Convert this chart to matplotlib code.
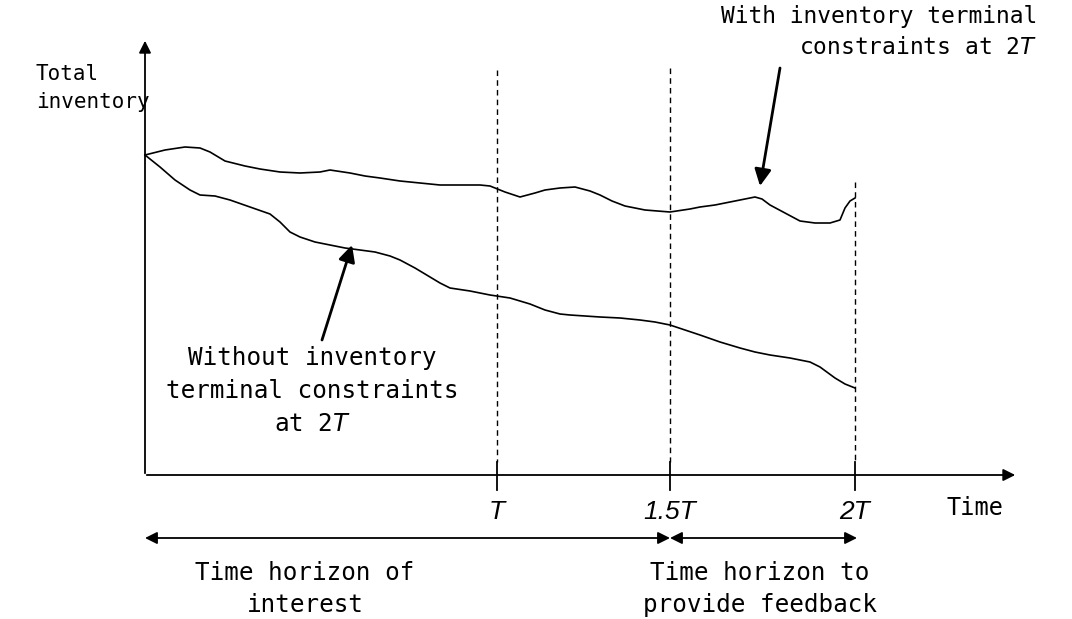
import matplotlib
matplotlib.use("Agg")
import matplotlib.pyplot as plt

# Schematic curves (pixel-like coordinates, y downward)
upper_x = [145,165,185,200,210,225,245,260,280,300,320,330,350,365,380,400,420,440,460,480,490,505,520,535,545,560,575,590,600,612,625,645,670,690,700,715,730,745,755,762,770,785,800,815,830,840,845,850,855]
upper_y = [155,150,147,148,152,161,166,169,172,173,172,170,173,176,178,181,183,185,185,185,186,192,197,193,190,188,187,191,195,201,206,210,212,209,207,205,202,199,197,199,205,213,221,223,223,220,208,201,198]
lower_x = [145,160,175,190,200,215,230,250,270,280,290,300,315,330,345,360,375,390,400,415,430,440,450,470,490,510,530,545,560,570,585,600,620,640,655,670,685,700,720,740,755,770,790,810,820,835,845,855]
lower_y = [155,167,180,190,195,196,200,207,214,222,232,237,242,245,248,250,252,256,260,268,277,283,288,291,295,298,304,310,314,315,316,317,318,320,322,325,330,335,342,348,352,355,358,362,367,378,384,388]
tick_x = [497, 670, 855]
tick_labels = ["T", "1.5T", "2T"]
dash_top = [70, 68, 182]

fig = plt.figure(figsize=(10.72, 6.19), dpi=100)
ax = fig.add_axes([0, 0, 1, 1])
ax.set_xlim(0, 1072); ax.set_ylim(619, 0); ax.axis("off")
mono = "DejaVu Sans Mono"
fs = 17.5
ls = 1.45

ax.plot(upper_x, upper_y, color="black", lw=1.2)
ax.plot(lower_x, lower_y, color="black", lw=1.2)

ap = dict(arrowstyle="-|>", color="black", lw=1.3, mutation_scale=18)
ax.annotate("", xy=(145, 38), xytext=(145, 476), arrowprops=ap)
ax.annotate("", xy=(1018, 475), xytext=(144, 475), arrowprops=ap)

for x, t, lab in zip(tick_x, dash_top, tick_labels):
    ax.plot([x, x], [t, 462], color="black", lw=1, ls=(0, (4, 3)))
    ax.plot([x, x], [462, 490], color="black", lw=1.3)
    ax.text(x, 512, lab, ha="center", va="center", fontsize=19, style="italic",
            family=["Liberation Sans", "DejaVu Sans"])

ax.text(975, 508, "Time", ha="center", va="center", fontsize=17, family=mono)
ax.text(36, 88, "Total\ninventory", ha="left", va="center", fontsize=15, family=mono, linespacing=1.55)

dp = dict(arrowstyle="<|-|>", color="black", lw=1.3, mutation_scale=18, shrinkA=0, shrinkB=0)
ax.annotate("", xy=(145, 538), xytext=(670, 538), arrowprops=dp)
ax.annotate("", xy=(670, 538), xytext=(857, 538), arrowprops=dp)
ax.text(305, 589, "Time horizon of\ninterest", ha="center", va="center", fontsize=fs, family=mono, linespacing=ls)
ax.text(760, 589, "Time horizon to\nprovide feedback", ha="center", va="center", fontsize=fs, family=mono, linespacing=ls)

fp = dict(arrowstyle="-|>", color="black", lw=2, mutation_scale=25, shrinkA=0, shrinkB=0)
ax.annotate("", xy=(352, 245), xytext=(322, 340), arrowprops=fp)
ax.annotate("", xy=(760, 186), xytext=(780, 68), arrowprops=fp)

ax.text(312, 391, "Without inventory\nterminal constraints\nat 2$\\it{T}$", ha="center", va="center",
        fontsize=fs, family=mono, linespacing=ls)
ax.text(1037, 32, "With inventory terminal\nconstraints at 2$\\it{T}$", ha="right", va="center",
        fontsize=16.5, family=mono, linespacing=1.5)

fig.savefig("out.png", dpi=100)
